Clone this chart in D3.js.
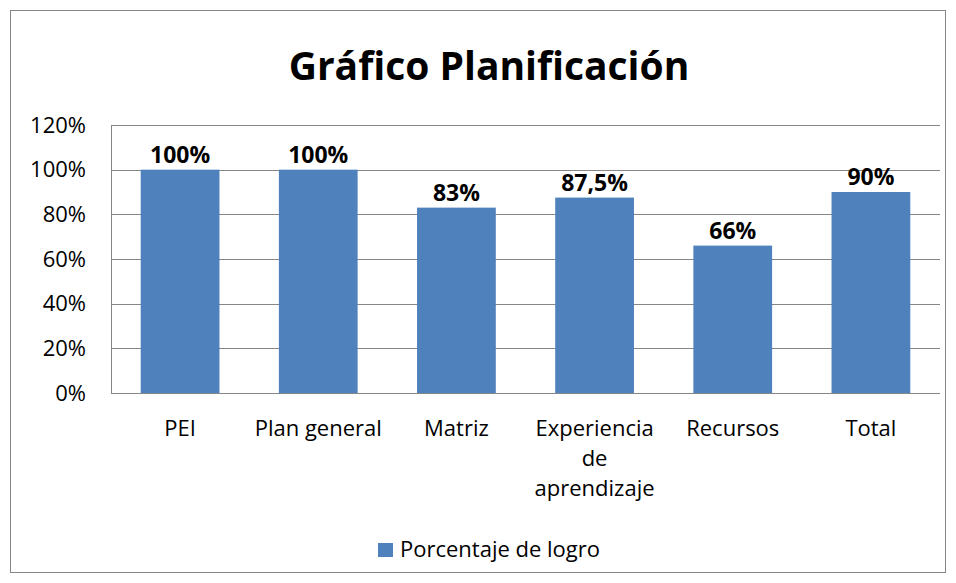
<!DOCTYPE html>
<html><head><meta charset="utf-8">
<script src="https://cdn.jsdelivr.net/npm/d3@7"></script>
<style>body{margin:0;background:#fff;}svg{display:block;font-family:"Open Sans","Noto Sans",sans-serif;}</style>
</head><body>
<svg id="c" width="956" height="583"></svg>
<script>
const title = "Gráfico Planificación";
const categories = ["PEI", "Plan general", "Matriz", "Experiencia de aprendizaje", "Recursos", "Total"];
const categoryLines = [["PEI"], ["Plan general"], ["Matriz"], ["Experiencia", "de", "aprendizaje"], ["Recursos"], ["Total"]];
const values = [1.00, 1.00, 0.83, 0.875, 0.66, 0.90];
const valueLabels = ["100%", "100%", "83%", "87,5%", "66%", "90%"];
const yTicks = [0, 0.2, 0.4, 0.6, 0.8, 1.0, 1.2];
const yTickLabels = ["0%", "20%", "40%", "60%", "80%", "100%", "120%"];
const seriesName = "Porcentaje de logro";

const svg = d3.select("#c");
const m = {left: 111, right: 940, top: 125, bottom: 393};

svg.append("rect").attr("x", 10.5).attr("y", 10.5).attr("width", 935).attr("height", 562)
  .attr("fill", "#fff").attr("stroke", "#868686").attr("stroke-width", 1);

svg.append("text").attr("x", 489).attr("y", 80).attr("text-anchor", "middle")
  .attr("font-size", 39).attr("font-weight", "bold").attr("fill", "#000").text(title);

const x = d3.scaleBand().domain(categories).range([m.left, m.right]).paddingInner(0.43).paddingOuter(0.215);
const y = d3.scaleLinear().domain([0, 1.2]).range([m.bottom, m.top]);

// gridlines
svg.append("g").selectAll("line").data(yTicks).join("line")
  .attr("x1", m.left).attr("x2", m.right)
  .attr("y1", d => Math.round(y(d)) + 0.5).attr("y2", d => Math.round(y(d)) + 0.5)
  .attr("stroke", "#868686").attr("stroke-width", 1);
// left frame
svg.append("line").attr("x1", m.left + 0.5).attr("x2", m.left + 0.5).attr("y1", m.top).attr("y2", m.bottom)
  .attr("stroke", "#868686");

// y axis labels
const yAxis = d3.axisLeft(y).tickValues(yTicks).tickSize(0).tickPadding(0)
  .tickFormat((d, i) => yTickLabels[i]);
const ya = svg.append("g").attr("transform", `translate(86,0)`).call(yAxis);
ya.select(".domain").remove();
ya.selectAll("text").attr("font-size", 22).attr("fill", "#000").attr("font-family", "'Open Sans','Noto Sans',sans-serif");

// bars
svg.append("g").selectAll("rect").data(values).join("rect")
  .attr("x", (d, i) => x(categories[i])).attr("width", x.bandwidth())
  .attr("y", d => y(d)).attr("height", d => y(0) - y(d))
  .attr("fill", "#4F81BD");

// value labels
svg.append("g").selectAll("text").data(values).join("text")
  .attr("x", (d, i) => x(categories[i]) + x.bandwidth() / 2)
  .attr("y", d => y(d) - 7).attr("text-anchor", "middle")
  .attr("font-size", 23).attr("font-weight", "bold").attr("fill", "#000")
  .text((d, i) => valueLabels[i]);

// category labels (one text per line)
const cg = svg.append("g");
categories.forEach((c, i) => {
  categoryLines[i].forEach((ln, j) => {
    cg.append("text").attr("x", x(c) + x.bandwidth() / 2).attr("y", 436 + j * 30)
      .attr("text-anchor", "middle").attr("font-size", 22).attr("fill", "#000").text(ln);
  });
});

// legend
svg.append("rect").attr("x", 378).attr("y", 543).attr("width", 15).attr("height", 14).attr("fill", "#4F81BD");
svg.append("text").attr("x", 400).attr("y", 557).attr("font-size", 22).attr("fill", "#000").text(seriesName);
</script>
</body></html>
